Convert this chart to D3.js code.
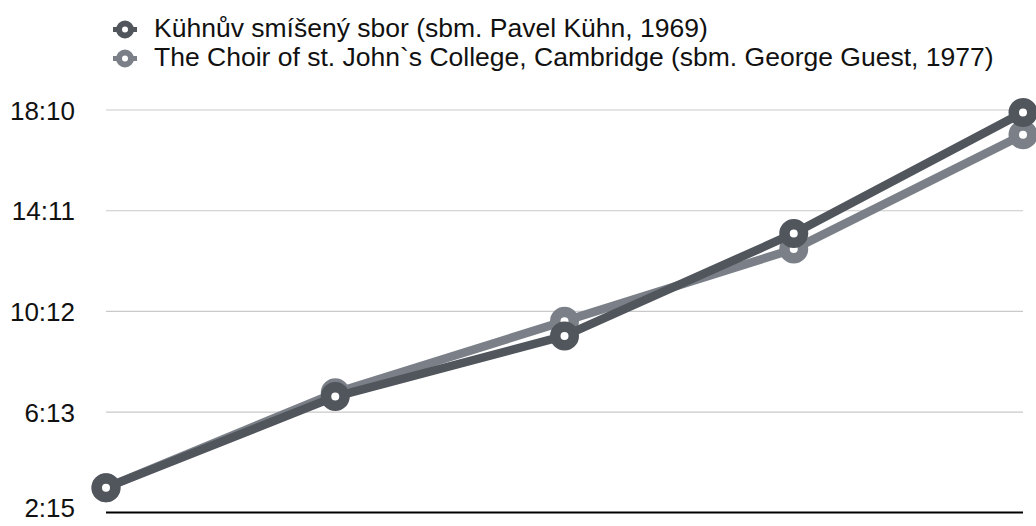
<!DOCTYPE html>
<html>
<head>
<meta charset="utf-8">
<script src="https://cdn.jsdelivr.net/npm/d3@7"></script>
<style>
  html, body { margin: 0; padding: 0; background: #fff; }
  svg { display: block; }
  text { font-family: "Liberation Sans", Arial, Helvetica, sans-serif; fill: #111; }
</style>
</head>
<body>
<svg width="1036" height="526"></svg>
<script>
// chart data (times as m:ss)
const categories = ["1", "2", "3", "4", "5"];
const seriesNames = [
  "Kühnův smíšený sbor (sbm. Pavel Kühn, 1969)",
  "The Choir of st. John`s College, Cambridge (sbm. George Guest, 1977)"
];
const kuhnTimes = ["3:14", "6:50", "9:14", "13:17", "18:04"];
const guestTimes = ["3:14", "6:59", "9:49", "12:40", "17:11"];
const tickLabels = ["2:15", "6:13", "10:12", "14:11", "18:10"];
const seriesColors = ["#51565d", "#7b8088"];

const toSec = s => { const [m, ss] = s.split(":").map(Number); return m * 60 + ss; };
const fmt = v => { const m = Math.floor(v / 60), s = Math.round(v - m * 60); return m + ":" + String(s).padStart(2, "0"); };

const series = [
  { name: seriesNames[0], color: seriesColors[0], values: kuhnTimes.map(toSec) },
  { name: seriesNames[1], color: seriesColors[1], values: guestTimes.map(toSec) }
];
const ticks = tickLabels.map(toSec);

const svg = d3.select("svg");
const plotLeft = 106, plotRight = 1023, plotTop = 110, plotBottom = 512.5;

const x = d3.scalePoint().domain(categories).range([plotLeft, plotRight]).padding(0);
const y = d3.scaleLinear().domain([ticks[0], ticks[ticks.length - 1]]).range([plotBottom, plotTop]);

// gridlines + labels
const yAxis = d3.axisLeft(y).tickValues(ticks).tickFormat(fmt).tickSize(0).tickPadding(31);
const ga = svg.append("g").attr("transform", `translate(${plotLeft},0)`).call(yAxis);
ga.select(".domain").remove();
ga.selectAll("text").style("font-size", "26px").attr("dy", "0.35em").style("fill", "#111")
  .style("font-family", "'Liberation Sans', Arial, sans-serif")
  .attr("y", d => d === ticks[0] ? -5.5 : 0); // bottom label is nudged up to stay inside

svg.append("g").selectAll("line")
  .data(ticks.slice(1))
  .enter().append("line")
  .attr("x1", plotLeft).attr("x2", plotRight)
  .attr("y1", d => y(d)).attr("y2", d => y(d))
  .attr("stroke", "#c9c9c9").attr("stroke-width", 1.2);

// baseline
svg.append("line")
  .attr("x1", plotLeft).attr("x2", plotRight)
  .attr("y1", y(ticks[0])).attr("y2", y(ticks[0]))
  .attr("stroke", "#000").attr("stroke-width", 2.2);

// series, light one first so the dark one sits on top
const line = d3.line().x((d, i) => x(categories[i])).y(d => y(d));
series.slice().reverse().forEach(s => {
  const g = svg.append("g");
  g.append("path")
    .attr("d", line(s.values))
    .attr("fill", "none")
    .attr("stroke", s.color)
    .attr("stroke-width", 8.5)
    .attr("stroke-linejoin", "round");
  g.selectAll("circle")
    .data(s.values)
    .enter().append("circle")
    .attr("cx", (d, i) => x(categories[i]))
    .attr("cy", d => y(d))
    .attr("r", 9.25)
    .attr("fill", "#fff")
    .attr("stroke", s.color)
    .attr("stroke-width", 10.5);
});

// legend
const legend = svg.append("g").selectAll("g")
  .data(series)
  .enter().append("g")
  .attr("transform", (d, i) => `translate(125,${29.5 + i * 29})`);
legend.append("line")
  .attr("x1", -12).attr("x2", 12)
  .attr("stroke", d => d.color).attr("stroke-width", 5);
legend.append("circle")
  .attr("r", 6)
  .attr("fill", "#fff")
  .attr("stroke", d => d.color)
  .attr("stroke-width", 6);
legend.append("text")
  .attr("x", 29)
  .attr("y", -1.5)
  .attr("dy", "0.35em")
  .style("font-size", "26.5px")
  .text(d => d.name);
</script>
</body>
</html>
